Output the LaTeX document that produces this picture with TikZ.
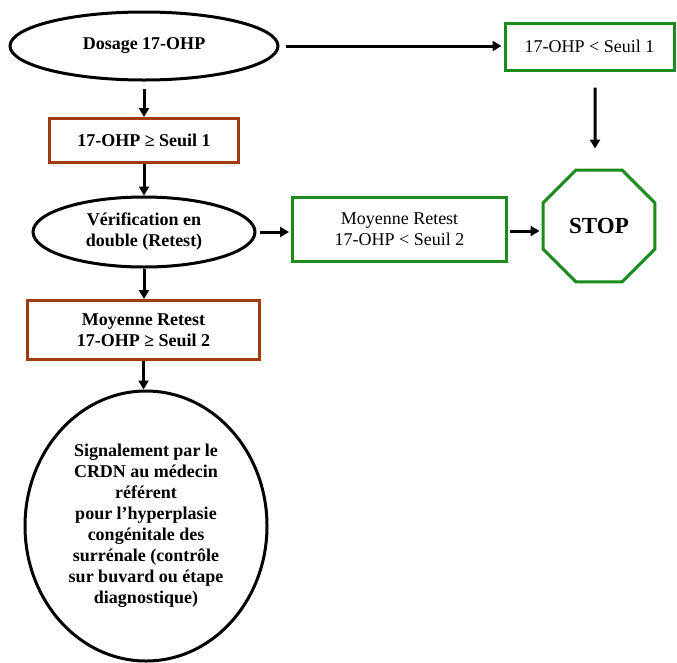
\documentclass[tikz,border=0pt]{standalone}
\usepackage{fontspec}
\setmainfont{Liberation Serif}
\usetikzlibrary{shapes.geometric,arrows.meta}
\definecolor{brownc}{RGB}{160,60,15}
\definecolor{greenc}{RGB}{25,140,25}
\begin{document}
\begin{tikzpicture}[x=1pt,y=-1pt,
  every node/.style={font=\fontsize{18}{21}\selectfont, align=center, inner sep=0pt},
  oval/.style={ellipse, draw=black, line width=3pt, font=\fontsize{18}{21}\selectfont\bfseries},
  brownbox/.style={rectangle, draw=brownc, line width=3pt, font=\fontsize{18}{21}\selectfont\bfseries},
  greenbox/.style={rectangle, draw=greenc, line width=3pt},
  arr/.style={line width=3pt, -{Triangle[length=9pt,width=10pt]}}]
\useasboundingbox (0,0) rectangle (677,662);
\node[oval, minimum width=268pt, minimum height=68pt] (e1) at (144,46) {Dosage 17-OHP};
\node[greenbox, minimum width=169pt, minimum height=47pt] (r1) at (589.5,46.5) {17-OHP < Seuil 1};
\node[brownbox, minimum width=189pt, minimum height=44pt] (b1) at (144,140.5) {17-OHP ≥ Seuil 1};
\node[oval, minimum width=222pt, minimum height=70pt] (e2) at (144,232) {Vérification en\\double (Retest)};
\node[greenbox, minimum width=214pt, minimum height=64pt] (g2) at (399.5,229.5) {Moyenne Retest\\17-OHP < Seuil 2};
\node[regular polygon, regular polygon sides=8, draw=greenc, line width=3pt, minimum size=121pt, font=\fontsize{23}{27}\selectfont\bfseries] (stop) at (599,226) {STOP};
\node[brownbox, minimum width=232pt, minimum height=59pt] (b2) at (143.5,330) {Moyenne Retest\\17-OHP ≥ Seuil 2};
\node[ellipse, draw=black, line width=3pt, minimum width=242pt, minimum height=270pt, font=\fontsize{18}{21}\selectfont\bfseries] (c) at (146,526) {Signalement par le\\CRDN au médecin\\référent\\pour l’hyperplasie\\congénitale des\\surrénale (contrôle\\sur buvard ou étape\\diagnostique)};
\draw[arr, shorten <=6pt, shorten >=2pt] (e1.east) -- (e1.east -| r1.west);
\draw[arr, shorten <=7pt] (e1.south) -- (b1.north);
\draw[arr] (b1.south) -- (e2.north);
\draw[arr] (e2.south) -- (e2.south |- b2.north);
\draw[arr, shorten <=3pt, shorten >=2pt] (e2.east) -- (e2.east -| g2.west);
\draw[arr, shorten <=2pt, shorten >=2pt] ([yshift=-1.5pt]g2.east) -- ([yshift=-1.5pt]g2.east -| stop.west);
\draw[arr] ([xshift=5.5pt,yshift=-16pt]r1.south) -- ([xshift=-4pt,yshift=20pt]stop.north);
\draw[arr] (b2.south) -- (b2.south |- c.north);
\end{tikzpicture}
\end{document}
